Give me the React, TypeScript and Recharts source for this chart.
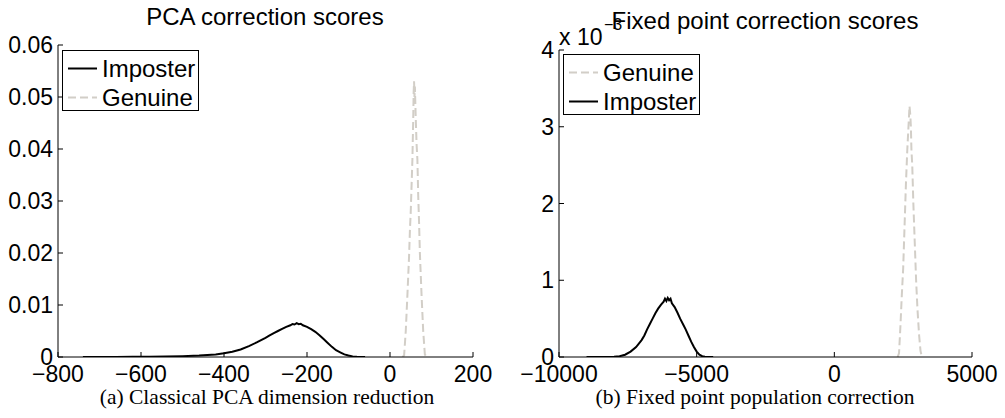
import { LineChart, Line, XAxis, YAxis, Legend } from "recharts";

// Classical PCA correction: score bins and density (density in units of 1e-3)
const pcaImposterX = [
  -740, -700, -660, -620, -580, -540, -500, -460, -420, -400, -380, -360, -340,
  -320, -300, -290, -280, -270, -260, -250, -240, -235, -230, -225, -220, -215,
  -210, -200, -190, -180, -170, -160, -150, -140, -130, -120, -110, -100, -90,
  -80, -70, -60,
];
const pcaImposterMilli = [
  0, 0.01, 0.02, 0.03, 0.05, 0.09, 0.16, 0.28, 0.5, 0.72, 1.0, 1.45, 2.1, 2.85,
  3.7, 4.15, 4.6, 5.0, 5.4, 5.8, 6.1, 6.35, 6.25, 6.5, 6.3, 6.4, 6.1, 5.8, 5.35,
  4.85, 4.2, 3.45, 2.7, 1.95, 1.3, 0.9, 0.5, 0.3, 0.12, 0.04, 0.01, 0,
];
const pcaGenuineX = [
  30, 34, 38, 42, 46, 48, 50, 52, 54, 56, 57, 58, 59, 60, 62, 64, 66, 68, 70,
  72, 76, 80, 84, 88,
];
const pcaGenuineMilli = [
  0, 0.3, 5, 12, 19.5, 24.4, 28, 33, 38, 46, 51, 53, 50, 52, 46, 41, 38, 31, 26,
  20, 12, 5, 0.5, 0,
];
const pcaXTicks = [-800, -600, -400, -200, 0, 200];
const pcaYTicks = [0, 0.01, 0.02, 0.03, 0.04, 0.05, 0.06];
const pcaLegend = ["Imposter", "Genuine"];

// Fixed point correction: density already in units of 1e-3 (axis exponent)
const fixedImposterX = [
  -9000, -8500, -8000, -7800, -7600, -7400, -7200, -7000, -6900, -6800, -6700,
  -6600, -6500, -6400, -6300, -6200, -6150, -6100, -6050, -6000, -5950, -5900,
  -5800, -5700, -5600, -5500, -5400, -5300, -5200, -5100, -5000, -4900, -4800,
  -4700, -4400,
];
const fixedImposterY = [
  0, 0, 0.003, 0.01, 0.03, 0.07, 0.13, 0.22, 0.28, 0.36, 0.43, 0.5, 0.57, 0.63,
  0.68, 0.72, 0.76, 0.73, 0.77, 0.74, 0.76, 0.7, 0.65, 0.58, 0.5, 0.43, 0.36,
  0.28, 0.2, 0.13, 0.07, 0.03, 0.01, 0.002, 0,
];
const fixedGenuineX = [
  2300, 2350, 2400, 2450, 2500, 2550, 2600, 2650, 2700, 2730, 2760, 2780, 2800,
  2830, 2870, 2920, 2970, 3020, 3080, 3130, 3180,
];
const fixedGenuineY = [
  0, 0.05, 0.4, 0.8, 1.15, 1.7, 2.25, 2.7, 3.05, 3.27, 3.15, 3.0, 2.7, 2.5, 2.0,
  1.5, 1.0, 0.62, 0.28, 0.08, 0,
];
const fixedXTicks = [-10000, -5000, 0, 5000];
const fixedYTicks = [0, 1, 2, 3, 4];
const fixedLegend = ["Genuine", "Imposter"];

const toPoints = (xs: number[], ys: number[], scale = 1) =>
  xs.map((x, i) => ({ x, y: ys[i] * scale }));

const FONT = "'Liberation Sans', Arial, Helvetica, sans-serif";
const SERIF = "'Liberation Serif', 'DejaVu Serif', serif";
const TICK_LEN = 5;
const LABEL_SIZE = 23;
const TITLE_SIZE = 24;

const LINE_STYLE: Record<string, { stroke: string; dash?: string }> = {
  Imposter: { stroke: "#000000" },
  Genuine: { stroke: "#d2cec7", dash: "8 4" },
};

const fmtNum = (v: number) => (v < 0 ? "\u2212" + Math.abs(v) : String(v));
const fmtPca = (v: number) => (v === 0 ? "0" : v.toFixed(2));

// MATLAB style ticks point into the plot box
function BottomTick(props: any) {
  const { x, y, payload } = props;
  return (
    <g>
      <line x1={x} x2={x} y1={y} y2={y - TICK_LEN} stroke="#000" />
      <text
        x={x}
        y={y + 25}
        textAnchor="middle"
        fontSize={LABEL_SIZE}
        fontFamily={FONT}
        fill="#000"
      >
        {fmtNum(payload.value)}
      </text>
    </g>
  );
}

function makeLeftTick(fmt: (v: number) => string) {
  return (props: any) => {
    const { x, y, payload } = props;
    return (
      <g>
        <line x1={x} x2={x + TICK_LEN} y1={y} y2={y} stroke="#000" />
        <text
          x={x - 5}
          y={y + 8}
          textAnchor="end"
          fontSize={LABEL_SIZE}
          fontFamily={FONT}
          fill="#000"
        >
          {fmt(payload.value)}
        </text>
      </g>
    );
  };
}

function TopTick(props: any) {
  const { x, y } = props;
  return <line x1={x} x2={x} y1={y} y2={y + TICK_LEN} stroke="#000" />;
}

function RightTick(props: any) {
  const { x, y } = props;
  return <line x1={x} x2={x - TICK_LEN} y1={y} y2={y} stroke="#000" />;
}

function LegendBox({ names }: { names: string[] }) {
  return (
    <div
      style={{
        boxSizing: "border-box",
        width: 137,
        height: 61,
        paddingTop: 3,
        border: "1px solid #000",
        background: "#fff",
      }}
    >
      {names.map((name) => {
        const s = LINE_STYLE[name];
        return (
          <div
            key={name}
            style={{ display: "flex", alignItems: "center", height: 29 }}
          >
            <svg width={39} height={29} style={{ display: "block" }}>
              <line
                x1={5}
                x2={34}
                y1={14.5}
                y2={14.5}
                stroke={s.stroke}
                strokeWidth={2}
                strokeDasharray={s.dash}
              />
            </svg>
            <span
              style={{
                fontFamily: FONT,
                fontSize: 24,
                lineHeight: "29px",
                color: "#000",
              }}
            >
              {name}
            </span>
          </div>
        );
      })}
    </div>
  );
}

const axisLine = { stroke: "#000", strokeWidth: 1 };

function PcaChart() {
  return (
    <LineChart
      width={500}
      height={418}
      margin={{ top: 45, right: 27, bottom: 0, left: 0 }}
    >
      <XAxis
        type="number"
        dataKey="x"
        domain={[-800, 200]}
        ticks={pcaXTicks}
        interval={0}
        allowDataOverflow
        height={61}
        tickSize={0}
        tickMargin={0}
        tickLine={false}
        axisLine={axisLine}
        tick={BottomTick}
      />
      <YAxis
        type="number"
        dataKey="y"
        domain={[0, 0.06]}
        ticks={pcaYTicks}
        interval={0}
        allowDataOverflow
        width={58}
        tickSize={0}
        tickMargin={0}
        tickLine={false}
        axisLine={axisLine}
        tick={makeLeftTick(fmtPca)}
      />
      <Line
        data={toPoints(pcaImposterX, pcaImposterMilli, 0.001)}
        dataKey="y"
        name="Imposter"
        type="linear"
        stroke={LINE_STYLE.Imposter.stroke}
        strokeWidth={2}
        dot={false}
        isAnimationActive={false}
      />
      <Line
        data={toPoints(pcaGenuineX, pcaGenuineMilli, 0.001)}
        dataKey="y"
        name="Genuine"
        type="linear"
        stroke={LINE_STYLE.Genuine.stroke}
        strokeDasharray={LINE_STYLE.Genuine.dash}
        strokeWidth={2}
        dot={false}
        isAnimationActive={false}
      />
      <Legend
        layout="vertical"
        align="center"
        verticalAlign="middle"
        wrapperStyle={{ left: 62, top: 50, width: 137, height: 61 }}
        content={() => <LegendBox names={pcaLegend} />}
      />
    </LineChart>
  );
}

function FixedChart() {
  return (
    <LineChart
      width={505}
      height={418}
      margin={{ top: 50, right: 33, bottom: 0, left: 0 }}
    >
      <XAxis
        type="number"
        dataKey="x"
        domain={[-10000, 5000]}
        ticks={fixedXTicks}
        interval={0}
        allowDataOverflow
        height={61}
        tickSize={0}
        tickMargin={0}
        tickLine={false}
        axisLine={axisLine}
        tick={BottomTick}
      />
      <XAxis
        xAxisId="top"
        orientation="top"
        type="number"
        domain={[-10000, 5000]}
        ticks={fixedXTicks}
        interval={0}
        height={0}
        tickSize={0}
        tickMargin={0}
        tickLine={false}
        axisLine={axisLine}
        tick={TopTick}
      />
      <YAxis
        type="number"
        dataKey="y"
        domain={[0, 4]}
        ticks={fixedYTicks}
        interval={0}
        allowDataOverflow
        width={59}
        tickSize={0}
        tickMargin={0}
        tickLine={false}
        axisLine={axisLine}
        tick={makeLeftTick(fmtNum)}
      />
      <YAxis
        yAxisId="right"
        orientation="right"
        type="number"
        domain={[0, 4]}
        ticks={fixedYTicks}
        interval={0}
        width={0}
        tickSize={0}
        tickMargin={0}
        tickLine={false}
        axisLine={axisLine}
        tick={RightTick}
      />
      <Line
        data={toPoints(fixedGenuineX, fixedGenuineY)}
        dataKey="y"
        name="Genuine"
        type="linear"
        stroke={LINE_STYLE.Genuine.stroke}
        strokeDasharray={LINE_STYLE.Genuine.dash}
        strokeWidth={2}
        dot={false}
        isAnimationActive={false}
      />
      <Line
        data={toPoints(fixedImposterX, fixedImposterY)}
        dataKey="y"
        name="Imposter"
        type="linear"
        stroke={LINE_STYLE.Imposter.stroke}
        strokeWidth={2}
        dot={false}
        isAnimationActive={false}
      />
      <Legend
        layout="vertical"
        align="center"
        verticalAlign="middle"
        wrapperStyle={{ left: 63, top: 54, width: 137, height: 61 }}
        content={() => <LegendBox names={fixedLegend} />}
      />
    </LineChart>
  );
}

export default function App() {
  return (
    <div
      style={{
        position: "absolute",
        left: 0,
        top: 0,
        width: 1005,
        height: 418,
        background: "#fff",
        overflow: "hidden",
      }}
    >
      <div style={{ position: "absolute", left: 0, top: 0 }}>
        <PcaChart />
      </div>
      <div style={{ position: "absolute", left: 500, top: 0 }}>
        <FixedChart />
      </div>
      <svg
        width={1005}
        height={418}
        style={{ position: "absolute", left: 0, top: 0, pointerEvents: "none" }}
      >
        <text x={265} y={25} textAnchor="middle" fontSize={TITLE_SIZE} fontFamily={FONT}>
          PCA correction scores
        </text>
        <text x={559} y={45} fontSize={LABEL_SIZE} fontFamily={FONT}>
          x 10
        </text>
        <text x={604} y={30} fontSize={16} fontFamily={FONT}>
          {"\u22123"}
        </text>
        <text x={765} y={29} textAnchor="middle" fontSize={TITLE_SIZE} fontFamily={FONT}>
          Fixed point correction scores
        </text>
        <text x={267} y={404} textAnchor="middle" fontSize={21.5} fontFamily={SERIF}>
          (a) Classical PCA dimension reduction
        </text>
        <text x={755} y={404} textAnchor="middle" fontSize={21.5} fontFamily={SERIF}>
          (b) Fixed point population correction
        </text>
      </svg>
    </div>
  );
}
